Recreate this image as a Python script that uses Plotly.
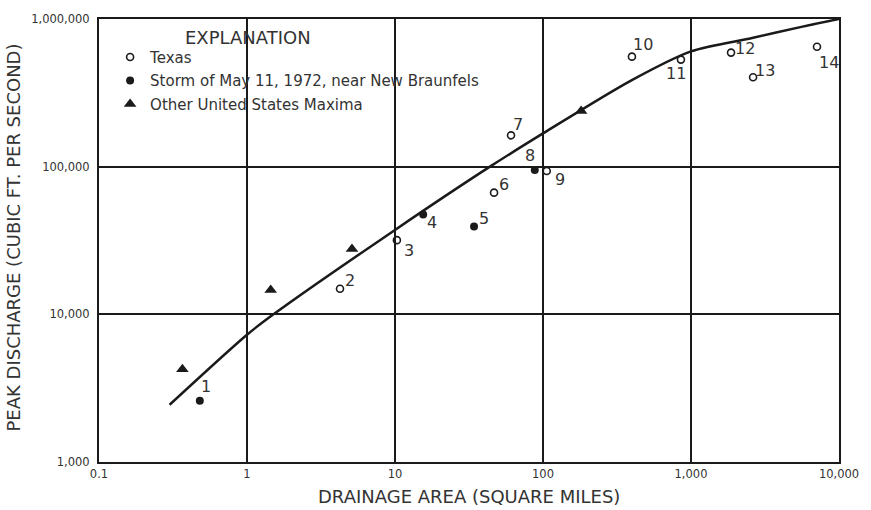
import math
import plotly.graph_objects as go

# ---- data ----
texas_id = ["2", "3", "6", "7", "9", "10", "11", "12", "13", "14"]
texas_area = [4.25, 10.3, 46.7, 60.8, 106, 399, 855, 1864, 2626, 7100]
texas_q = [14900, 31800, 66700, 163000, 93500, 556000, 531000, 592000, 403000, 649000]

storm_id = ["1", "4", "5", "8"]
storm_area = [0.48, 15.5, 34.2, 88]
storm_q = [2600, 47400, 39400, 95000]

us_area = [0.366, 1.446, 5.12, 181]
us_q = [4250, 14600, 27700, 238000]

env_area = [0.30, 1.0, 1.51, 10, 43.8, 100, 393, 1000, 2630, 5670, 10000]
env_q = [2443, 7280, 10000, 37300, 100000, 168000, 383000, 604000, 746000, 888000, 1000000]

x_tickvals = [0.1, 1, 10, 100, 1000, 10000]
x_ticktext = ["0.1", "1", "10", "100", "1,000", "10,000"]
y_tickvals = [1000, 10000, 100000, 1000000]
y_ticktext = ["1,000", "10,000", "100,000", "1,000,000"]

# label offsets (pixels) for the site numbers
label_offset = {
    "1": (6, 14), "2": (10, 8), "3": (12, -10), "4": (9, -8), "5": (10, 8),
    "6": (10, 8), "7": (7, 11), "8": (-5, 14), "9": (13, -9), "10": (11, 12),
    "11": (-5, -14), "12": (14, 4), "13": (12, 7), "14": (12, -16),
}

INK = "#1a1a1a"
TXT = "#333"
FONT = "DejaVu Sans"

fig = go.Figure()

fig.add_trace(go.Scatter(
    x=env_area, y=env_q, mode="lines", line=dict(color=INK, width=2.5, shape="spline", smoothing=0.8),
    showlegend=False, hoverinfo="skip"))

fig.add_trace(go.Scatter(
    x=texas_area, y=texas_q, mode="markers", name="Texas", legendgroup="a",
    marker=dict(symbol="circle-open", size=7, color=INK, line=dict(width=1.6, color=INK))))
fig.add_trace(go.Scatter(
    x=storm_area, y=storm_q, mode="markers", name="Storm of May 11, 1972, near New Braunfels",
    legendgroup="b", marker=dict(symbol="circle", size=8, color=INK)))
fig.add_trace(go.Scatter(
    x=us_area, y=us_q, mode="markers", name="Other United States Maxima", legendgroup="c",
    marker=dict(symbol="triangle-up", size=11, color=INK)))

annotations = []
for ids, xs, ys in [(texas_id, texas_area, texas_q), (storm_id, storm_area, storm_q)]:
    for i, xv, yv in zip(ids, xs, ys):
        dx, dy = label_offset[i]
        annotations.append(dict(
            x=math.log10(xv), y=math.log10(yv), xref="x", yref="y", text=i, showarrow=False,
            xshift=dx, yshift=dy, font=dict(family=FONT, size=16, color=TXT)))

annotations.append(dict(
    text="PEAK DISCHARGE (CUBIC FT. PER SECOND)", xref="paper", yref="paper",
    x=(13 - 99) / 741, y=0.507, xanchor="center", yanchor="middle", textangle=-90,
    showarrow=False, font=dict(family=FONT, size=18, color=TXT)))
annotations.append(dict(
    text="DRAINAGE AREA (SQUARE MILES)", xref="paper", yref="paper",
    x=0.5, y=(462 - 497) / 448, xanchor="center", yanchor="middle",
    showarrow=False, font=dict(family=FONT, size=18, color=TXT)))
annotations.append(dict(
    text="EXPLANATION", xref="paper", yref="paper",
    x=(248 - 99) / 741, y=(462 - 33) / 448, xanchor="center", yanchor="middle",
    showarrow=False, font=dict(family=FONT, size=18, color=TXT)))

axis_common = dict(
    type="log", showgrid=True, gridcolor=INK, gridwidth=1.5,
    showline=True, linecolor=INK, linewidth=2, mirror=True,
    ticks="", zeroline=False, tickfont=dict(family=FONT, size=11.5, color=TXT),
)

fig.update_layout(
    width=871, height=510,
    margin=dict(l=99, r=31, t=14, b=48),
    paper_bgcolor="white", plot_bgcolor="white",
    xaxis=dict(range=[-1, 4], tickvals=x_tickvals, ticktext=x_ticktext, **axis_common),
    yaxis=dict(range=[3, 6], tickvals=y_tickvals, ticktext=y_ticktext, ticklabelstandoff=5,
               **axis_common),
    legend=dict(
        x=0.015, y=(462 - 36) / 448, xanchor="left", yanchor="top",
        bgcolor="rgba(0,0,0,0)", borderwidth=0, tracegroupgap=1,
        font=dict(family=FONT, size=15, color=TXT),
    ),
    annotations=annotations,
    showlegend=True,
)

fig.write_html("out.html")
